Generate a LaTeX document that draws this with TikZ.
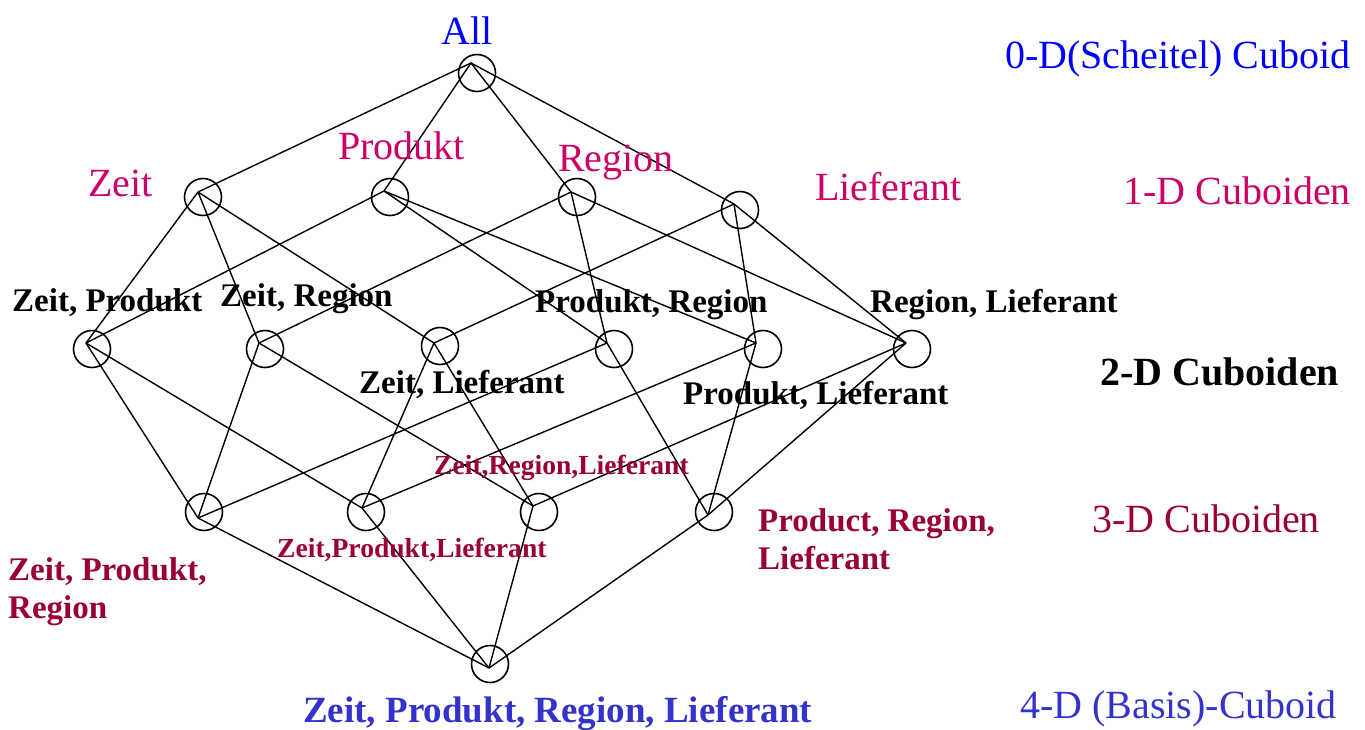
\documentclass[tikz,border=0pt]{standalone}
\usepackage{fontspec}
\setmainfont{Liberation Serif}
\definecolor{cblue}{RGB}{0,0,255}
\definecolor{cmag}{RGB}{204,0,102}
\definecolor{cdred}{RGB}{153,0,51}
\definecolor{cmblue}{RGB}{51,51,204}
\tikzset{
  circ/.style={draw,circle,minimum size=37pt,inner sep=0pt,line width=1.6pt},
  edge/.style={line width=1.4pt},
  txt/.style={anchor=base west,inner sep=0pt,align=left},
  big/.style={font=\fontsize{40}{48}\selectfont},
  bigb/.style={font=\bfseries\fontsize{40}{48}\selectfont},
  mid/.style={font=\bfseries\fontsize{33}{38}\selectfont},
  small/.style={font=\bfseries\fontsize{27.6}{32}\selectfont},
  basel/.style={font=\bfseries\fontsize{37}{42}\selectfont}
}
\begin{document}
\begin{tikzpicture}[x=1pt,y=-1pt]
\useasboundingbox (0,0) rectangle (1365,729);
% circles
\node[circ] (all) at (477,73) {};
\node[circ] (z) at (203,197) {};
\node[circ] (p) at (390,197) {};
\node[circ] (r) at (577,197) {};
\node[circ] (l) at (740,210) {};
\node[circ] (zp) at (92,349) {};
\node[circ] (zr) at (265,349) {};
\node[circ] (zl) at (440,346) {};
\node[circ] (pr) at (614,349) {};
\node[circ] (pl) at (763,349) {};
\node[circ] (rl) at (912,349) {};
\node[circ] (zpr) at (204,512) {};
\node[circ] (zpl) at (366,512) {};
\node[circ] (zrl) at (539,512) {};
\node[circ] (prl) at (714,512) {};
\node[circ] (base) at (490,664) {};
% hubs
\coordinate (allh) at (471,63);
\coordinate (zh) at (198,192);
\coordinate (ph) at (384,191);
\coordinate (rh) at (571,192);
\coordinate (lh) at (734,204);
\coordinate (zph) at (86,343);
\coordinate (zrh) at (259,343);
\coordinate (zlh) at (434,343);
\coordinate (prh) at (607,343);
\coordinate (plh) at (756,343);
\coordinate (rlh) at (906,343);
\coordinate (zprh) at (198,518);
\coordinate (zplh) at (362,508);
\coordinate (zrlh) at (533,506);
\coordinate (prlh) at (708,515);
\coordinate (baseh) at (489,668);
% edges
\foreach \a/\b in {allh/zh,allh/ph,allh/rh,allh/lh,
  zh/zph,zh/zrh,zh/zlh, ph/zph,ph/prh,ph/plh, rh/zrh,rh/prh,rh/rlh, lh/zlh,lh/plh,lh/rlh,
  zph/zprh,zph/zplh, zrh/zprh,zrh/zrlh, zlh/zplh,zlh/zrlh, prh/zprh,prh/prlh, plh/zplh,plh/prlh, rlh/zrlh,rlh/prlh,
  zprh/baseh,zplh/baseh,zrlh/baseh,prlh/baseh}
  \draw[edge] (\a) -- (\b);
% labels
\node[txt,big,text=cblue] (tall) at (441,44) {All};
\node[txt,big,text=cblue] (t0d) at (1005,68) {0-D(Scheitel) Cuboid};
\node[txt,big,text=cmag] (tz) at (88,196) {Zeit};
\node[txt,big,text=cmag] (tp) at (338,159) {Produkt};
\node[txt,big,text=cmag] (tr) at (558,171) {Region};
\node[txt,big,text=cmag] (tl) at (815,200) {Lieferant};
\node[txt,big,text=cmag] (t1d) at (1123,204) {1-D Cuboiden};
\node[txt,mid] (tzp) at (12,311) {Zeit, Produkt};
\node[txt,mid] (tzr) at (220,306) {Zeit, Region};
\node[txt,mid] (tpr) at (535,312) {Produkt, Region};
\node[txt,mid] (trl) at (870,312) {Region, Lieferant};
\node[txt,mid] (tzl) at (359,393) {Zeit, Lieferant};
\node[txt,mid] (tpl) at (683,404) {Produkt, Lieferant};
\node[txt,bigb] (t2d) at (1100,385) {2-D Cuboiden};
\node[txt,small,text=cdred] (tzrl) at (434,474) {Zeit,Region,Lieferant};
\node[txt,small,text=cdred] (tzpl) at (277,557) {Zeit,Produkt,Lieferant};
\node[txt,mid,text=cdred] (tprl) at (758,569) {Product, Region,\\Lieferant};
\node[txt,mid,text=cdred] (tzpr) at (8,618) {Zeit, Produkt,\\Region};
\node[txt,big,text=cdred] (t3d) at (1092,532) {3-D Cuboiden};
\node[txt,basel,text=cmblue] (tbase) at (303,722) {Zeit, Produkt, Region, Lieferant};
\node[txt,big,text=cmblue] (t4d) at (1020,718) {4-D (Basis)-Cuboid};
\end{tikzpicture}
\end{document}
